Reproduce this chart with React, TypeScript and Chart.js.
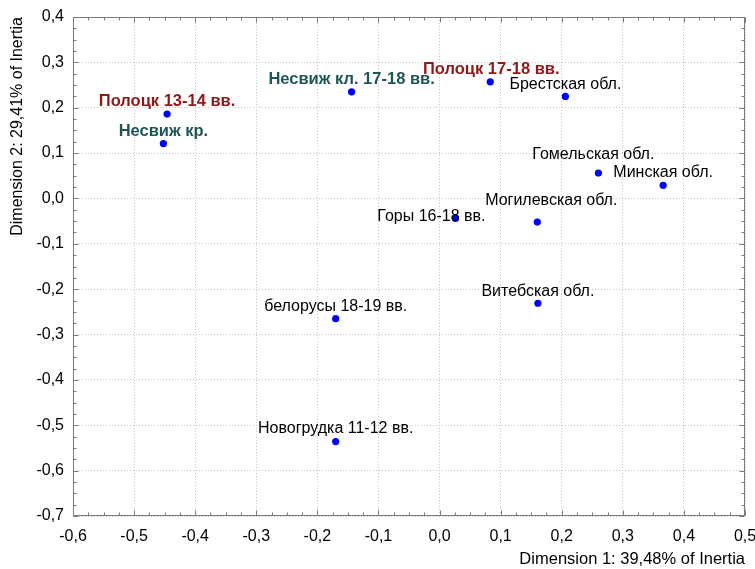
import React, { useEffect, useRef } from "react";
import { Chart, registerables } from "chart.js";

Chart.register(...registerables);

// ---- data ----
const pointNames = [
  "Полоцк 13-14 вв.",
  "Несвиж кр.",
  "Несвиж кл. 17-18 вв.",
  "Полоцк 17-18 вв.",
  "Брестская обл.",
  "Гомельская обл.",
  "Минская обл.",
  "Могилевская обл.",
  "Горы 16-18 вв.",
  "Витебская обл.",
  "белорусы 18-19 вв.",
  "Новогрудка 11-12 вв.",
];
const dim1 = [-0.446, -0.452, -0.144, 0.083, 0.206, 0.26, 0.366, 0.16, 0.026, 0.161, -0.17, -0.17];
const dim2 = [0.186, 0.121, 0.235, 0.257, 0.225, 0.056, 0.029, -0.052, -0.044, -0.231, -0.265, -0.536];
const labelKind = ["red", "teal", "teal", "red", "plain", "plain", "plain", "plain", "plain", "plain", "plain", "plain"];
const labelDx = [0, 0, 0, 1, 0, -5, 0, 14, -24, 0, 0, 0];
const labelDy = [-8, -8, -8, -8, -7, -14, -8, -17, 3, -7, -8, -9];

const xMin = -0.6;
const xMax = 0.5;
const yMin = -0.7;
const yMax = 0.4;
const majorStep = 0.1;
const minorPerMajor = 4;
const xTitle = "Dimension 1: 39,48% of Inertia";
const yTitle = "Dimension 2: 29,41% of Inertia";

const FONT = "'Liberation Sans', Arial, sans-serif";
const kindColor: Record<string, string> = { red: "#8b1a1a", teal: "#1e5555", plain: "#000000" };

const fmt = (value: any) => {
  const v = Math.round(Number(value) * 10) / 10;
  return (Math.abs(v) < 1e-9 ? 0 : v).toFixed(1).replace(".", ",");
};

const framePlugin = {
  id: "frameTicks",
  beforeDatasetsDraw(chart: any) {
    const { ctx, chartArea } = chart;
    const xs = chart.scales.x;
    const ys = chart.scales.y;
    const L = Math.round(chartArea.left) + 0.5;
    const R = Math.round(chartArea.right) - 0.5;
    const T = Math.round(chartArea.top) + 0.5;
    const B = Math.round(chartArea.bottom) - 0.5;
    ctx.save();
    ctx.strokeStyle = "#7a7a7a";
    ctx.lineWidth = 1;
    ctx.beginPath();
    const nx = Math.round((xMax - xMin) / (majorStep / minorPerMajor));
    for (let i = 0; i <= nx; i++) {
      const v = xMin + (i * majorStep) / minorPerMajor;
      const px = Math.round(xs.getPixelForValue(v)) + 0.5;
      const len = i % minorPerMajor === 0 ? 5 : 3;
      ctx.moveTo(px, B);
      ctx.lineTo(px, B - len);
      ctx.moveTo(px, T);
      ctx.lineTo(px, T + len);
    }
    const ny = Math.round((yMax - yMin) / (majorStep / minorPerMajor));
    for (let i = 0; i <= ny; i++) {
      const v = yMin + (i * majorStep) / minorPerMajor;
      const py = Math.round(ys.getPixelForValue(v)) + 0.5;
      const len = i % minorPerMajor === 0 ? 5 : 3;
      ctx.moveTo(L, py);
      ctx.lineTo(L + len, py);
      ctx.moveTo(R, py);
      ctx.lineTo(R - len, py);
    }
    ctx.stroke();
    ctx.strokeRect(L, T, R - L, B - T);
    ctx.restore();
  },
  afterDatasetsDraw(chart: any) {
    const { ctx } = chart;
    const meta = chart.getDatasetMeta(0);
    ctx.save();
    ctx.textAlign = "center";
    ctx.textBaseline = "alphabetic";
    meta.data.forEach((el: any, i: number) => {
      const kind = labelKind[i];
      ctx.font = kind === "plain" ? "16px " + FONT : "bold 16.5px " + FONT;
      ctx.fillStyle = kindColor[kind];
      ctx.fillText(pointNames[i], el.x + labelDx[i], el.y + labelDy[i]);
    });
    ctx.restore();
  },
};

export default function App() {
  const ref = useRef<HTMLCanvasElement | null>(null);
  useEffect(() => {
    document.body.style.margin = "0";
    if (!ref.current) return;
    const chart = new Chart(ref.current, {
      type: "scatter",
      data: {
        datasets: [
          {
            data: dim1.map((x, i) => ({ x, y: dim2[i] })),
            pointRadius: 3.6,
            pointHoverRadius: 3.6,
            backgroundColor: "#0000ff",
            borderColor: "#0000ff",
            borderWidth: 0,
          },
        ],
      },
      options: {
        animation: false,
        responsive: true,
        maintainAspectRatio: false,
        layout: { padding: { top: 17, right: 10, left: 0, bottom: 0 } },
        plugins: { legend: { display: false }, tooltip: { enabled: false } },
        scales: {
          x: {
            type: "linear",
            min: xMin,
            max: xMax,
            ticks: {
              stepSize: majorStep,
              callback: fmt,
              color: "#000",
              font: { family: FONT, size: 16 },
              padding: 11,
              maxRotation: 0,
            },
            grid: { color: "#c4c4c4", drawTicks: false, lineWidth: 1 },
            border: { display: false, dash: [1, 2] },
            title: {
              display: true,
              text: xTitle,
              align: "end",
              color: "#000",
              font: { family: FONT, size: 16.5 },
              padding: { top: 0, bottom: 0 },
            },
            afterFit: (s: any) => {
              s.height = 53;
              s.paddingLeft = 0;
              s.paddingRight = 0;
            },
          },
          y: {
            type: "linear",
            min: yMin,
            max: yMax,
            ticks: {
              stepSize: majorStep,
              callback: fmt,
              color: "#000",
              font: { family: FONT, size: 16 },
              padding: 9,
            },
            grid: { color: "#c4c4c4", drawTicks: false, lineWidth: 1 },
            border: { display: false, dash: [1, 2] },
            title: {
              display: true,
              text: yTitle,
              align: "end",
              color: "#000",
              font: { family: FONT, size: 16 },
              padding: { top: 8, bottom: 0 },
            },
            afterFit: (s: any) => {
              s.width = 73;
              s.paddingTop = 0;
              s.paddingBottom = 0;
            },
          },
        },
      },
      plugins: [framePlugin],
    } as any);
    return () => chart.destroy();
  }, []);
  return (
    <div style={{ position: "fixed", left: 0, top: 0, width: 755, height: 569, background: "#fff" }}>
      <canvas ref={ref} />
    </div>
  );
}
